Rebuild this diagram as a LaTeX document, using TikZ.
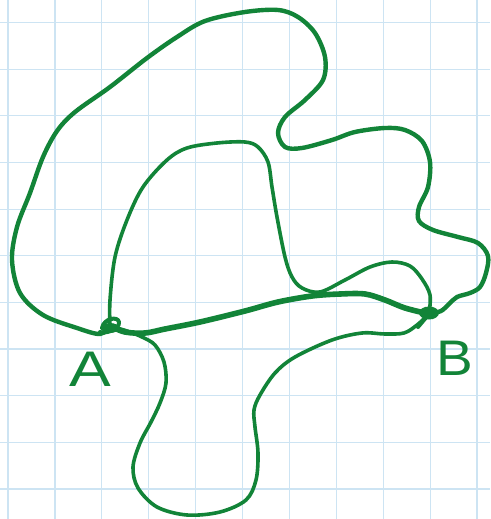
\documentclass[tikz,border=0pt]{standalone}
\usepackage{fontspec}
\setmainfont{Liberation Sans}
\definecolor{ink}{RGB}{18,132,56}
\definecolor{gridblue}{RGB}{205,228,243}
\begin{document}
\begin{tikzpicture}[x=1pt,y=-1pt,
  gridline/.style={draw=gridblue,line width=1.2pt},
  stroke/.style={draw=ink,line cap=round,line join=round},
  lbl/.style={text=ink,font=\fontsize{50}{50}\selectfont,inner sep=0pt}]
\useasboundingbox (0,0) rectangle (490,519);
\fill[white] (0,0) rectangle (490,519);
% grid
\foreach \i in {0,...,10} {
  \draw[gridline] ({8+46.9*\i},0) -- ({8+46.9*\i},519);
  \draw[gridline] (0,{22.5+46.65*\i}) -- (490,{22.5+46.65*\i});
}
\coordinate (A) at (110,326);
\coordinate (B) at (429,314);
% outer loop
\draw[stroke,line width=4.4pt] plot[smooth,tension=0.55] coordinates {
 (A) (100,334) (77,328) (43,315) (20,293) (12,260) (17,227) (30,193) (43,157)
 (57,131) (75,112) (110,87) (147,58) (177,37) (205,21) (245,12) (278,10) (298,17)
 (315,33) (325,57) (323,80) (305,100) (285,117) (278,133) (285,147) (302,148)
 (332,140) (355,132) (385,128) (405,130) (422,141) (430,162) (428,187) (419,207)
 (419,221) (433,230) (458,237) (478,243) (488,256) (486,273) (480,287) (470,293)
 (457,297) (449,304) (441,311) (B)};
% inner loop
\draw[stroke,line width=3.6pt] plot[smooth,tension=0.55] coordinates {
 (A) (110,300) (115,257) (127,220) (143,187) (167,160) (187,148) (217,143) (245,142)
 (258,147) (268,162) (272,187) (277,217) (285,257) (292,277) (302,288) (320,292)
 (345,280) (370,267) (392,262) (410,266) (422,279) (430,295) (B)};
% main A-B path
\draw[stroke,line width=5.6pt] plot[smooth,tension=0.55] coordinates {
 (A) (125,332) (145,333) (165,329) (200,322) (245,311) (278,302) (312,296) (340,294)
 (365,294) (385,300) (405,308) (B)};
% lower loop
\draw[stroke,line width=3.6pt] plot[smooth,tension=0.55] coordinates {
 (A) (127,331) (142,337) (155,345) (164,362) (166,383) (160,403) (151,422) (140,443)
 (133,467) (138,488) (157,507) (187,515) (220,512) (246,500) (256,480) (258,453)
 (255,427) (254,410) (260,395) (275,373) (295,357) (332,340) (362,333) (385,334)
 (404,333) (417,325) (B)};
% knots
\draw[stroke,line width=4pt] (102,328) .. controls (104,318) and (118,316) .. (119,322)
  .. controls (120,330) and (104,334) .. (100,332);
\fill[ink] (110,328) ellipse (9pt and 5pt);
\fill[ink] (429,313) ellipse (10pt and 6.5pt);
\draw[stroke,line width=4pt] (B) -- (418,327);
% labels
\node[lbl,xscale=1.25] (la) at (90,369) {A};
\node[lbl,xscale=1.1] (lb) at (455,358) {B};
\end{tikzpicture}
\end{document}
